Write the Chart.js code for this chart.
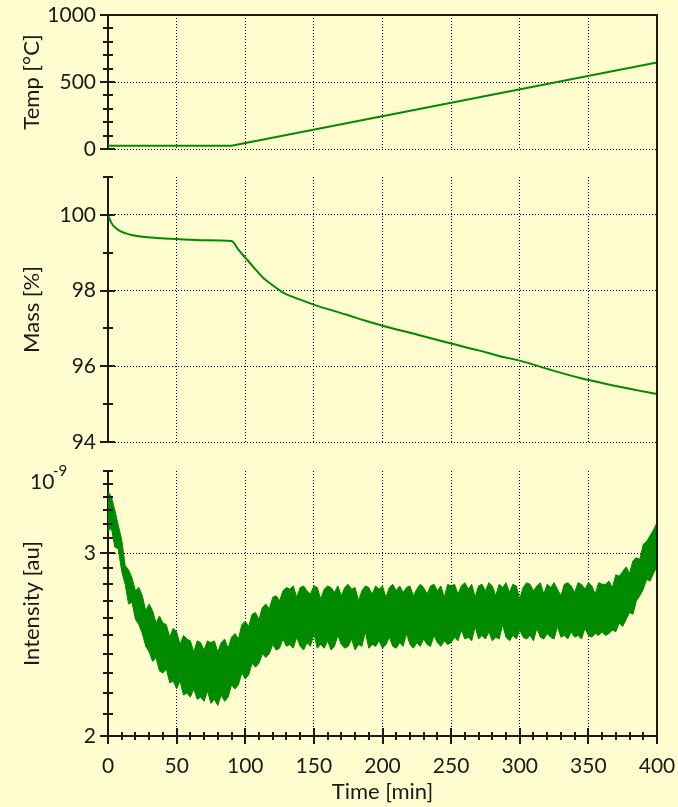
<!DOCTYPE html>
<html>
<head>
<meta charset="utf-8">
<script src="https://cdn.jsdelivr.net/npm/chart.js@4.4.1/dist/chart.umd.min.js"></script>
<style>
  html, body { margin: 0; padding: 0; background: #FFFDCF; }
  #wrap { position: relative; width: 678px; height: 807px; overflow: hidden; }
  canvas { position: absolute; left: 0; }
</style>
</head>
<body>
<div id="wrap">
  <canvas id="tempChart" width="678" height="165" style="top:0px"></canvas>
  <canvas id="massChart" width="678" height="295" style="top:165px"></canvas>
  <canvas id="intChart" width="678" height="347" style="top:460px"></canvas>
</div>
<script>
// ---- axis ticks ----
const timeTicks = [0, 10, 20, 30, 40, 50, 60, 70, 80, 90, 100, 110, 120, 130, 140, 150, 160, 170, 180, 190, 200,
  210, 220, 230, 240, 250, 260, 270, 280, 290, 300, 310, 320, 330, 340, 350, 360, 370, 380, 390, 400];
const timeLabels = [0, 50, 100, 150, 200, 250, 300, 350, 400];
const tempTicks = [0, 100, 200, 300, 400, 500, 600, 700, 800, 900, 1000];
const tempLabels = [0, 500, 1000];
const massTicks = [94, 95, 96, 97, 98, 99, 100, 101];
const massLabels = [94, 96, 98, 100];
const intTicks = [2.0, 2.1, 2.2, 2.3, 2.4, 2.5, 2.6, 2.7, 2.8, 2.9, 3.0, 3.1, 3.2, 3.3, 3.4, 3.5, 3.6];
const intLabels = [2, 3];

// ---- data ----
const tempTime = [0, 90, 400];
const tempValues = [25, 25, 645];

const massTime = [0, 2, 4, 6, 9, 13, 18, 25, 31, 40, 50, 70, 90, 95, 100, 106, 113, 120, 128, 140, 150,
  162, 174, 187, 200, 225, 250, 270, 286, 300, 322, 344, 360, 371, 385, 400];
const massValues = [100.0, 99.82, 99.71, 99.64, 99.57, 99.51, 99.46, 99.42, 99.40, 99.38, 99.36, 99.33, 99.31,
  99.08, 98.87, 98.62, 98.34, 98.14, 97.94, 97.76, 97.63, 97.49, 97.36, 97.21, 97.07, 96.84, 96.60, 96.42,
  96.26, 96.15, 95.91, 95.69, 95.56, 95.47, 95.37, 95.27];

// intensity (x 1e-9): upper and lower edge of the noisy band
const intTime = [0, 2.5, 5, 7.5, 10, 12.5, 15, 17.5, 20, 22.5, 25, 27.5, 30, 32.5, 35, 37.5, 40, 42.5, 45, 47.5,
  50, 52.5, 55, 57.5, 60, 62.5, 65, 67.5, 70, 72.5, 75, 77.5, 80, 82.5, 85, 87.5, 90, 92.5, 95, 97.5,
  100, 102.5, 105, 107.5, 110, 112.5, 115, 117.5, 120, 122.5, 125, 127.5, 130, 132.5, 135, 137.5, 140, 142.5, 145, 147.5,
  150, 152.5, 155, 157.5, 160, 162.5, 165, 167.5, 170, 172.5, 175, 177.5, 180, 182.5, 185, 187.5, 190, 192.5, 195, 197.5,
  200, 202.5, 205, 207.5, 210, 212.5, 215, 217.5, 220, 222.5, 225, 227.5, 230, 232.5, 235, 237.5, 240, 242.5, 245, 247.5,
  250, 252.5, 255, 257.5, 260, 262.5, 265, 267.5, 270, 272.5, 275, 277.5, 280, 282.5, 285, 287.5, 290, 292.5, 295, 297.5,
  300, 302.5, 305, 307.5, 310, 312.5, 315, 317.5, 320, 322.5, 325, 327.5, 330, 332.5, 335, 337.5, 340, 342.5, 345, 347.5,
  350, 352.5, 355, 357.5, 360, 362.5, 365, 367.5, 370, 372.5, 375, 377.5, 380, 382.5, 385, 387.5, 390, 392.5, 395, 397.5,
  400];
const intHigh = [3.44, 3.40, 3.30, 3.19, 3.09, 2.92, 2.89, 2.84, 2.76, 2.78, 2.73, 2.64, 2.68, 2.64, 2.57, 2.61, 2.57, 2.56, 2.49, 2.54,
  2.52, 2.45, 2.50, 2.48, 2.47, 2.41, 2.47, 2.46, 2.42, 2.47, 2.46, 2.47, 2.41, 2.46, 2.48, 2.43, 2.49, 2.51, 2.48, 2.56,
  2.58, 2.55, 2.62, 2.63, 2.59, 2.66, 2.68, 2.65, 2.72, 2.73, 2.70, 2.76,
  2.78, 2.77, 2.79, 2.72, 2.78, 2.79, 2.76, 2.74, 2.79, 2.78, 2.71, 2.77, 2.79, 2.78, 2.75, 2.79, 2.73, 2.78, 2.80, 2.77,
  2.78, 2.70, 2.76, 2.79, 2.78, 2.74, 2.79, 2.77, 2.79, 2.72, 2.78, 2.80, 2.76, 2.79, 2.75, 2.78, 2.79, 2.73, 2.77, 2.80,
  2.78, 2.74, 2.79, 2.80, 2.76, 2.79, 2.72, 2.80, 2.79,
  2.80, 2.74, 2.79, 2.81, 2.77, 2.80, 2.72, 2.79, 2.80, 2.76, 2.81, 2.79, 2.73, 2.80, 2.78, 2.81, 2.75, 2.80, 2.79, 2.71,
  2.78, 2.81, 2.80, 2.76, 2.79, 2.81, 2.74, 2.80, 2.78, 2.81, 2.77, 2.73, 2.80, 2.81, 2.79, 2.75, 2.81, 2.80, 2.77, 2.81,
  2.79, 2.74, 2.81, 2.80,
  2.80, 2.82, 2.78, 2.86, 2.85, 2.88, 2.91, 2.87, 2.95, 2.97, 2.96, 3.06, 3.08, 3.12, 3.16, 3.21];
const intLow = [3.15, 3.17, 3.04, 3.03, 2.88, 2.80, 2.68, 2.69, 2.59, 2.56, 2.51, 2.44, 2.41, 2.36, 2.38, 2.31, 2.30, 2.32, 2.25, 2.26,
  2.22, 2.26, 2.19, 2.20, 2.18, 2.22, 2.17, 2.18, 2.16, 2.21, 2.15, 2.17, 2.14, 2.19, 2.16, 2.18, 2.24, 2.22, 2.24, 2.30,
  2.27, 2.29, 2.35, 2.33, 2.35, 2.40, 2.38, 2.40, 2.45, 2.42, 2.43, 2.48,
  2.44, 2.45, 2.43, 2.49, 2.44, 2.42, 2.46, 2.44, 2.51, 2.43, 2.45, 2.43, 2.47, 2.42, 2.44, 2.50, 2.45, 2.43, 2.44, 2.48,
  2.42, 2.45, 2.44, 2.52, 2.43, 2.45, 2.44, 2.47, 2.43, 2.45, 2.49, 2.44, 2.43, 2.46, 2.44, 2.51, 2.45, 2.43, 2.46, 2.44,
  2.48, 2.45, 2.44, 2.50, 2.46, 2.44, 2.47, 2.45, 2.46,
  2.49, 2.47, 2.53, 2.48, 2.49, 2.47, 2.55, 2.48, 2.50, 2.48, 2.52, 2.47, 2.49, 2.48, 2.56, 2.49, 2.47, 2.50, 2.48, 2.53,
  2.49, 2.48, 2.50, 2.47, 2.54, 2.49, 2.48, 2.51, 2.49, 2.48, 2.55, 2.49, 2.50, 2.48, 2.52, 2.49, 2.50, 2.48, 2.54, 2.50,
  2.49, 2.51, 2.50, 2.52,
  2.50, 2.51, 2.53, 2.52, 2.57, 2.55, 2.59, 2.63, 2.62, 2.70, 2.73, 2.77, 2.83, 2.82, 2.87, 2.91];

const FONT = 'Lato, "DejaVu Sans", sans-serif';
const GREEN = '#008A00';
const INK = '#1a1a1a';
const DOTS = '#000';
const NONE = 'rgba(0,0,0,0)';

function pts(xs, ys) {
  return xs.map((x, i) => ({ x: x, y: ys[i] }));
}

// draws crossing tick marks, right border and top border
const frame = {
  id: 'frame',
  afterDraw(chart, args, o) {
    const { ctx, chartArea: a, scales } = chart;
    ctx.save();
    ctx.strokeStyle = INK;
    ctx.lineWidth = 2;
    const line = (x1, y1, x2, y2) => { ctx.beginPath(); ctx.moveTo(x1, y1); ctx.lineTo(x2, y2); ctx.stroke(); };
    line(a.right, o.rightFull === 'up' || o.rightFull === 'both' ? 0 : a.top,
         a.right, o.rightFull === 'down' || o.rightFull === 'both' ? chart.height : a.bottom);
    if (o.topLine) line(a.left - 1, a.top, a.right + 1, a.top);
    const ys = scales.y;
    ys.ticks.forEach(t => {
      const py = Math.round(ys.getPixelForValue(t.value));
      const major = o.yMajor.some(v => Math.abs(v - t.value) < 1e-6);
      line(a.left - (major ? 8 : 5), py, a.left + (major ? 7 : 5), py);
    });
    if (o.xTicks) {
      const xs = scales.x;
      xs.ticks.forEach(t => {
        const px = Math.round(xs.getPixelForValue(t.value));
        const major = timeLabels.includes(t.value);
        line(px, a.bottom - (major ? 8 : 4), px, a.bottom + (major ? 8 : 4));
      });
    }
    if (o.exponent) {
      ctx.fillStyle = INK;
      ctx.textBaseline = 'middle';
      ctx.font = '21px ' + FONT;
      ctx.fillText('10', 30, 22);
      ctx.font = '15px ' + FONT;
      ctx.fillText('-9', 53, 11);
    }
    ctx.restore();
  }
};

function xScale(show) {
  return {
    type: 'linear', min: 0, max: 400,
    afterBuildTicks: s => { s.ticks = timeTicks.map(v => ({ value: v })); },
    afterFit: s => { s.height = show ? 71 : 0; s.paddingLeft = 0; s.paddingRight = 0; },
    grid: {
      drawTicks: false, lineWidth: 1,
      color: c => (c.tick && c.tick.value > 0 && c.tick.value < 400 && timeLabels.includes(c.tick.value)) ? DOTS : NONE
    },
    border: { display: show, color: INK, width: 2, dash: [1, 2] },
    ticks: {
      display: show, autoSkip: false, maxRotation: 0, padding: 18, color: INK,
      font: { family: FONT, size: 21 },
      callback: v => timeLabels.includes(v) ? String(v) : ''
    },
    title: {
      display: show, text: 'Time [min]', color: INK,
      font: { family: FONT, size: 22 }, padding: { top: 0, bottom: 2 }
    }
  };
}

function yScale(type, min, max, ticks, labels, title) {
  return {
    type: type, min: min, max: max,
    afterBuildTicks: s => { s.ticks = ticks.map(v => ({ value: v })); },
    afterFit: s => { s.width = 108; s.paddingTop = 0; s.paddingBottom = 0; },
    grid: {
      drawTicks: false, lineWidth: 1,
      color: c => (c.tick && labels.some(v => Math.abs(v - c.tick.value) < 1e-6)) ? DOTS : NONE
    },
    border: { display: true, color: INK, width: 2, dash: [1, 2] },
    ticks: {
      autoSkip: false, padding: 12, color: INK,
      font: { family: FONT, size: 21 },
      callback: v => labels.some(l => Math.abs(l - v) < 1e-6) ? String(Math.round(v)) : ''
    },
    title: {
      display: true, text: title, color: INK,
      font: { family: FONT, size: 22 }, padding: { top: 19, bottom: 0 }
    }
  };
}

function baseOptions(padding, frameOpts) {
  return {
    responsive: false, maintainAspectRatio: false, animation: false, events: [],
    layout: { padding: padding },
    plugins: { legend: { display: false }, tooltip: { enabled: false }, frame: frameOpts },
    elements: { point: { radius: 0 }, line: { tension: 0 } }
  };
}

// ---- temperature ----
const tempOpts = baseOptions({ top: 15, right: 21, bottom: 16, left: 0 },
  { topLine: true, rightFull: 'down', yMajor: tempLabels });
tempOpts.scales = { x: xScale(false), y: yScale('linear', 0, 1000, tempTicks, tempLabels, 'Temp [°C]') };
new Chart(document.getElementById('tempChart'), {
  type: 'line',
  data: { datasets: [{ data: pts(tempTime, tempValues), borderColor: GREEN, borderWidth: 2, fill: false }] },
  options: tempOpts,
  plugins: [frame]
});

// ---- mass ----
const massOpts = baseOptions({ top: 12, right: 21, bottom: 18, left: 0 },
  { topLine: false, rightFull: 'both', yMajor: massLabels });
massOpts.scales = { x: xScale(false), y: yScale('linear', 94, 101, massTicks, massLabels, 'Mass [%]') };
new Chart(document.getElementById('massChart'), {
  type: 'line',
  data: { datasets: [{ data: pts(massTime, massValues), borderColor: GREEN, borderWidth: 2, fill: false, cubicInterpolationMode: 'monotone' }] },
  options: massOpts,
  plugins: [frame]
});

// ---- intensity ----
const intOpts = baseOptions({ top: 11, right: 21, bottom: 0, left: 0 },
  { topLine: false, rightFull: 'up', yMajor: intLabels, xTicks: true, exponent: true });
intOpts.scales = { x: xScale(true), y: yScale('logarithmic', 2, 3.6, intTicks, intLabels, 'Intensity [au]') };
new Chart(document.getElementById('intChart'), {
  type: 'line',
  data: {
    datasets: [
      { data: pts(intTime, intHigh), borderColor: GREEN, backgroundColor: GREEN, borderWidth: 1, fill: '+1' },
      { data: pts(intTime, intLow), borderColor: GREEN, borderWidth: 1, fill: false }
    ]
  },
  options: intOpts,
  plugins: [frame]
});
</script>
</body>
</html>
